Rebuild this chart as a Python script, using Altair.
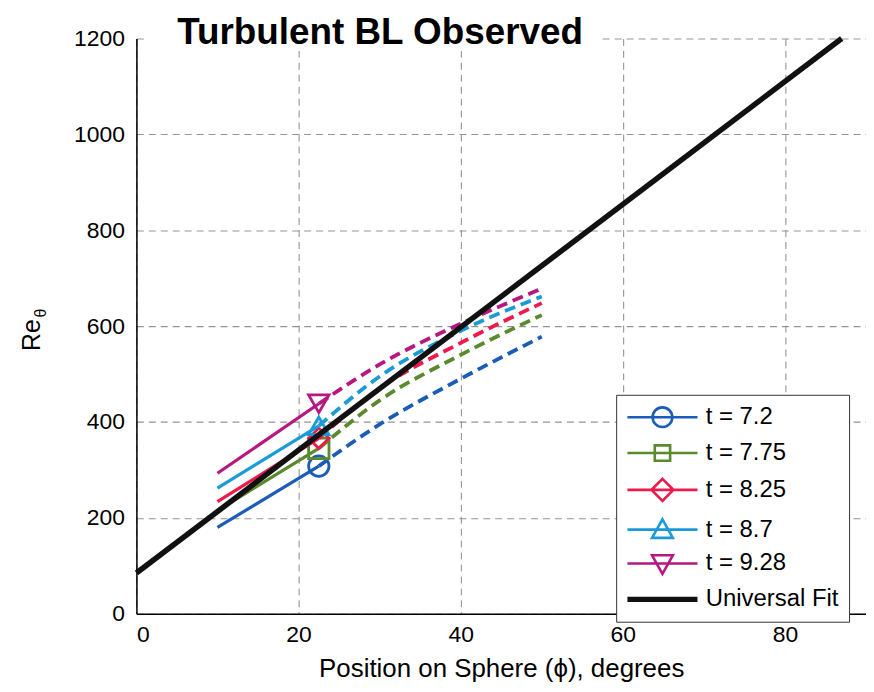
import altair as alt
import pandas as pd

# ---------------- data ----------------
series_names = ["t = 7.2", "t = 7.75", "t = 8.25", "t = 8.7", "t = 9.28"]
series_colors = ["#1a5cb8", "#5a8a2c", "#ee1a4c", "#1a9bd7", "#b5197f"]
fit_name = "Universal Fit"
fit_color = "#111111"

solid_phi = [10, 22.5]
solid_re = [
    [180, 308],
    [215, 345],
    [234, 366],
    [262, 392],
    [293, 438],
]
dashed_phi = [22.5, 30, 40, 50]
dashed_re = [
    [308, 395, 490, 578],
    [345, 445, 540, 623],
    [366, 470, 565, 648],
    [392, 495, 590, 662],
    [438, 520, 605, 678],
]
marker_phi = 22.5
marker_re = [308, 345, 366, 392, 438]
marker_shapes = ["circle", "square", "diamond", "triangle-up", "triangle-down"]

fit_phi = [0, 87]
fit_re = [85, 1200]

x_ticks = [0, 20, 40, 60, 80]
y_ticks = [0, 200, 400, 600, 800, 1000, 1200]

title_text = "Turbulent BL Observed"
x_title = "Position on Sphere (\u03d5), degrees"

# legend symbol paths: line through an open marker
legend_paths = [
    "M-3.2,0H3.2M0.9,0A0.9,0.9,0,1,1,-0.9,0A0.9,0.9,0,1,1,0.9,0Z",
    "M-3.2,0H3.2M-0.7,-0.7H0.7V0.7H-0.7Z",
    "M-3.2,0H3.2M0,-1L1,0L0,1L-1,0Z",
    "M-3.2,0H3.2M0,-0.95L0.95,0.75H-0.95Z",
    "M-3.2,0H3.2M0,0.95L0.95,-0.75H-0.95Z",
    "M-3.2,-0.12H3.2M-3.2,0H3.2M-3.2,0.12H3.2",
]

FONT = "Liberation Sans"

# ---------------- layers ----------------
x_enc = alt.X("phi:Q", scale=alt.Scale(domain=[0, 90], nice=False),
              axis=alt.Axis(values=x_ticks, title=x_title, grid=True, format="d"))
y_enc = alt.Y("re:Q", scale=alt.Scale(domain=[0, 1200], nice=False),
              axis=alt.Axis(values=y_ticks, title=None, grid=True, format="d"))

layers = []
for i, name in enumerate(series_names):
    sdf = pd.DataFrame({"phi": solid_phi, "re": solid_re[i]})
    ddf = pd.DataFrame({"phi": dashed_phi, "re": dashed_re[i]})
    mdf = pd.DataFrame({"phi": [marker_phi], "re": [marker_re[i]]})
    enc = dict(x=x_enc, y=y_enc) if i == 0 else dict(x="phi:Q", y="re:Q")
    layers.append(
        alt.Chart(sdf).mark_line(strokeWidth=3.2, color=series_colors[i]).encode(**enc)
    )
    layers.append(
        alt.Chart(ddf).mark_line(
            strokeWidth=3.8, strokeDash=[11, 6], interpolate="monotone",
            color=series_colors[i]
        ).encode(x="phi:Q", y="re:Q")
    )
    layers.append(
        alt.Chart(mdf).mark_point(
            shape=marker_shapes[i], size=420, filled=False, strokeWidth=2.8,
            opacity=1, color=series_colors[i]
        ).encode(x="phi:Q", y="re:Q")
    )

fit = alt.Chart(pd.DataFrame({"phi": fit_phi, "re": fit_re})).mark_line(
    strokeWidth=5.5, color=fit_color
).encode(x="phi:Q", y="re:Q")

all_names = series_names + [fit_name]
leg = alt.Legend(
    title=None, orient="none", legendX=482, legendY=358,
    symbolSize=484, symbolStrokeWidth=2.6, symbolOffset=24,
    labelFontSize=24, labelFont=FONT, labelOffset=31, labelLimit=400,
    labelColor="black",
    strokeColor="#333333", fillColor="white", padding=10, rowPadding=7,
    cornerRadius=0,
)
ghost = alt.Chart(pd.DataFrame({"series": all_names})).mark_point(
    size=0, filled=False, strokeWidth=2.6, opacity=1
).encode(
    x=alt.value(0), y=alt.value(0),
    color=alt.Color("series:N", scale=alt.Scale(domain=all_names,
                                                range=series_colors + [fit_color]),
                    legend=leg, sort=all_names),
    shape=alt.Shape("series:N", scale=alt.Scale(domain=all_names, range=legend_paths),
                    legend=leg, sort=all_names),
)

one = pd.DataFrame([{"k": 0}])
title_bg = alt.Chart(one).mark_rect(color="white").encode(
    x=alt.value(12), x2=alt.value(465), y=alt.value(-14), y2=alt.value(12)
)
title_mark = alt.Chart(one).mark_text(
    font=FONT, fontSize=37, fontWeight="bold", align="left", baseline="alphabetic",
    color="black"
).encode(x=alt.value(41), y=alt.value(6), text=alt.value(title_text))

ytitle_re = alt.Chart(one).mark_text(
    font=FONT, fontSize=25, angle=270, align="center", baseline="middle", color="black"
).encode(x=alt.value(-105), y=alt.value(298), text=alt.value("Re"))
ytitle_sub = alt.Chart(one).mark_text(
    font=FONT, fontSize=16, angle=270, align="center", baseline="middle", color="black"
).encode(x=alt.value(-96), y=alt.value(276), text=alt.value("\u03b8"))

chart = alt.layer(
    *layers, fit, ghost, title_bg, title_mark, ytitle_re, ytitle_sub
).properties(
    width=733, height=578,
    autosize=alt.AutoSizeParams(type="none"),
    padding={"left": 129, "top": 29, "right": 0, "bottom": 77},
    background="white",
).configure_view(stroke=None).configure_axis(
    labelFont=FONT, labelFontSize=23, labelColor="black",
    titleFont=FONT, titleFontSize=26, titleFontWeight="normal", titleColor="black",
    domainColor="black", domainWidth=1.5, tickColor="black", tickSize=0,
    gridColor="#8a8a8a", gridDash=[7, 5], gridWidth=1.1, gridOpacity=0.9,
    labelPadding=10,
).configure_axisX(titlePadding=9).configure_axisY(labelPadding=12)

chart.save("out.html", embed_options={"renderer": "svg", "actions": False})
